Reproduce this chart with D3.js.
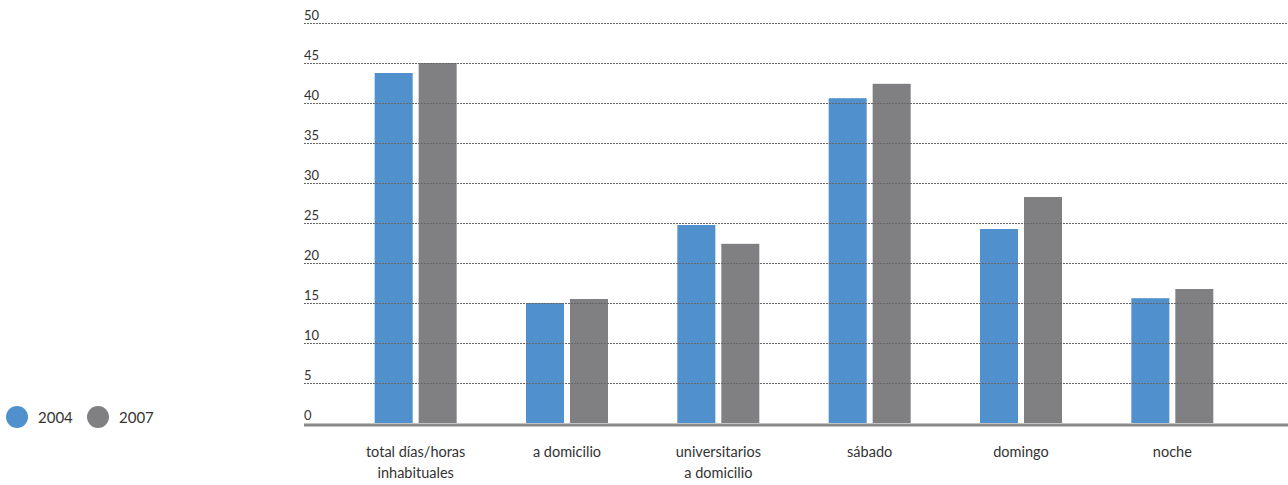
<!DOCTYPE html>
<html>
<head>
<meta charset="utf-8">
<script src="https://cdn.jsdelivr.net/npm/d3@7"></script>
<style>
  body { margin: 0; background: #fff; }
  svg text { font-family: Lato, "Open Sans", sans-serif; fill: #333; }
</style>
</head>
<body>
<svg width="1288" height="485"></svg>
<script>
// datos del gráfico
const categorias = [["total días/horas", "inhabituales"], ["a domicilio"], ["universitarios", "a domicilio"], ["sábado"], ["domingo"], ["noche"]];
const anios = ["2004", "2007"];
const valores2004 = [43.75, 15.0, 24.75, 40.6, 24.25, 15.6];
const valores2007 = [45.0, 15.5, 22.4, 42.4, 28.25, 16.75];
const ticksY = [0, 5, 10, 15, 20, 25, 30, 35, 40, 45, 50];
const colores = { "2004": "#4f90cd", "2007": "#808083" };

const svg = d3.select("svg");
const plotLeft = 304, plotRight = 1288, plotTop = 23, plotBottom = 423;

const y = d3.scaleLinear().domain([0, 50]).range([plotBottom, plotTop]);

const x0 = d3.scaleBand()
  .domain(d3.range(categorias.length))
  .range([340, 1248]);

const x1 = d3.scaleBand()
  .domain(anios)
  .range([x0.bandwidth() / 2 - 41, x0.bandwidth() / 2 + 41])
  .paddingInner(0.136);

const datos = categorias.map((c, i) => ({ i, vals: [valores2004[i], valores2007[i]] }));

// barras
const grupos = svg.selectAll(".grupo")
  .data(datos)
  .enter().append("g")
  .attr("transform", d => "translate(" + x0(d.i) + ",0)");

grupos.selectAll("rect")
  .data(d => anios.map((a, k) => ({ anio: a, v: d.vals[k] })))
  .enter().append("rect")
  .attr("x", d => x1(d.anio))
  .attr("y", d => y(d.v))
  .attr("width", x1.bandwidth())
  .attr("height", d => y(0) - y(d.v))
  .attr("fill", d => colores[d.anio]);

// líneas de la cuadrícula (por encima de las barras)
svg.append("g")
  .selectAll("line")
  .data(ticksY.filter(t => t > 0))
  .enter().append("line")
  .attr("x1", plotLeft).attr("x2", plotRight)
  .attr("y1", d => y(d) + 0.5).attr("y2", d => y(d) + 0.5)
  .attr("stroke", "#666")
  .attr("stroke-width", 1)
  .attr("stroke-dasharray", "2,1");

// eje inferior
svg.append("line")
  .attr("x1", plotLeft).attr("x2", plotRight)
  .attr("y1", y(0) + 2).attr("y2", y(0) + 2)
  .attr("stroke", "#888")
  .attr("stroke-width", 3);

// etiquetas del eje y
svg.append("g")
  .selectAll("text")
  .data(ticksY)
  .enter().append("text")
  .attr("x", plotLeft)
  .attr("y", d => y(d) - 3)
  .attr("font-size", 13)
  .text(d => d);

// etiquetas de categorías
const etiquetas = svg.append("g")
  .selectAll("text")
  .data(datos)
  .enter().append("text")
  .attr("text-anchor", "middle")
  .attr("font-size", 14.5)
  .attr("x", d => x0(d.i) + x0.bandwidth() / 2)
  .attr("y", 457);

etiquetas.selectAll("tspan")
  .data(d => categorias[d.i].map(t => ({ t, x: x0(d.i) + x0.bandwidth() / 2 })))
  .enter().append("tspan")
  .attr("x", d => d.x)
  .attr("dy", (d, k) => k === 0 ? 0 : 21)
  .text(d => d.t);

// leyenda
const leyenda = svg.append("g")
  .selectAll("g")
  .data(anios)
  .enter().append("g")
  .attr("transform", (d, k) => "translate(" + (17 + k * 81) + ",417)");

leyenda.append("circle")
  .attr("r", 11)
  .attr("fill", d => colores[d]);

leyenda.append("text")
  .attr("x", 21)
  .attr("y", 5.5)
  .attr("font-size", 15)
  .text(d => d);
</script>
</body>
</html>
